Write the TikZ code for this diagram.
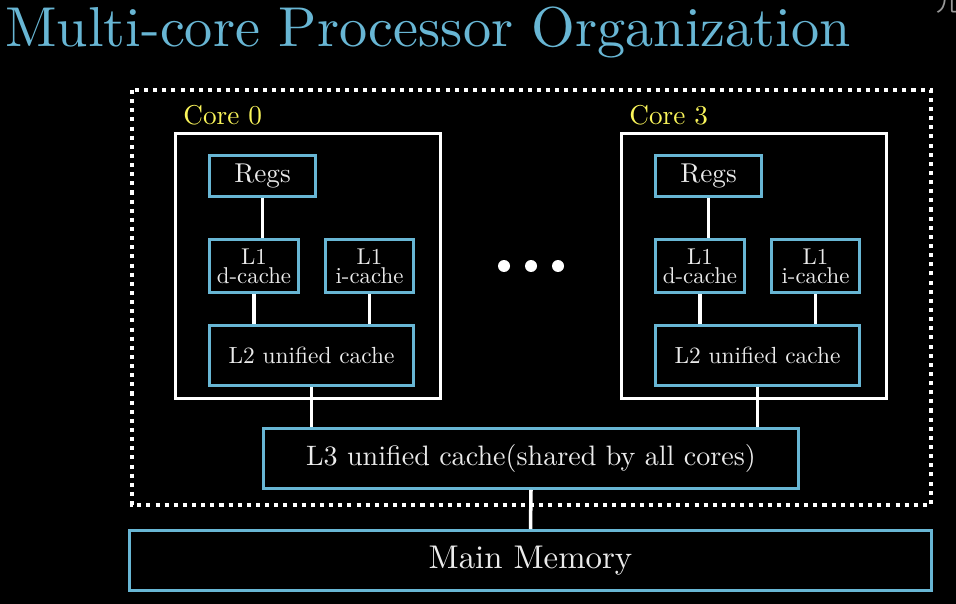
\documentclass[tikz,border=0pt]{standalone}
\usepackage{fontspec}
\setmainfont{lmroman10-regular}[Extension=.otf]
\newfontfamily\cjk{Noto Sans CJK SC}
\usepackage{xcolor}
\definecolor{cacheblue}{RGB}{104,182,212}
\definecolor{coreyellow}{RGB}{250,245,90}

\begin{document}
\begin{tikzpicture}[x=0.02cm,y=-0.02cm,
  cache/.style={draw=cacheblue,line width=1.7pt,text=white!92!black,inner sep=0pt,align=center},
  corebox/.style={draw=white,line width=1.7pt,minimum width=5.3cm,minimum height=5.3cm,inner sep=0pt},
  link/.style={draw=white,line width=2pt}]
\fill[black] (0,0) rectangle (956,604);
\useasboundingbox (0,0) rectangle (956,604);
\node[anchor=base west,text=cacheblue,inner sep=0pt,font=\fontsize{32}{36}\selectfont] (title) at (5,47) {Multi-core Processor Organization};
\node[text=black!40,inner sep=0pt,font=\cjk\fontsize{13}{14}\selectfont] (mark) at (948,3) {九};
\draw[white,line width=2.3pt,dash pattern=on 2.3pt off 2.9pt] (132,90) rectangle (931,505);
\foreach \i/\dx in {0/0,3/446}{
  \node[corebox] (core\i) at (308+\dx,266) {};
  \node[anchor=base west,text=coreyellow,inner sep=0pt,font=\fontsize{15.5}{18}\selectfont] (label\i) at (183+\dx,125) {Core \i};
  \node[cache,minimum width=2.12cm,minimum height=0.82cm,font=\fontsize{15.5}{18}\selectfont] (regs\i) at (262.5+\dx,176) {Regs};
  \node[cache,minimum width=1.78cm,minimum height=1.06cm,font=\fontsize{13}{10.8}\selectfont] (l1d\i) at (254+\dx,266) {L1\\d-cache};
  \node[cache,minimum width=1.76cm,minimum height=1.06cm,font=\fontsize{13}{10.8}\selectfont] (l1i\i) at (369.5+\dx,266) {L1\\i-cache};
  \node[cache,minimum width=4.08cm,minimum height=1.2cm,font=\fontsize{13.3}{16}\selectfont] (l2c\i) at (311.5+\dx,355.5) {L2 unified cache};
  \draw[link] (regs\i.south) -- (regs\i.south |- l1d\i.north);
  \draw[link] (l1d\i.south) -- (l1d\i.south |- l2c\i.north);
  \draw[link] (l1i\i.south) -- (l1i\i.south |- l2c\i.north);
}
\fill[white] (504,266) circle [radius=0.12cm] (531,266) circle [radius=0.12cm] (558,266) circle [radius=0.12cm];
\node[cache,minimum width=10.7cm,minimum height=1.2cm,font=\fontsize{16}{18}\selectfont] (l3) at (531,458.5) {L3 unified cache(shared by all cores)};
\node[cache,minimum width=16.04cm,minimum height=1.2cm,font=\fontsize{18.7}{20}\selectfont] (mem) at (530.5,560.5) {Main Memory};
\draw[link] (l2c0.south) -- (l2c0.south |- l3.north);
\draw[link] (l2c3.south) -- (l2c3.south |- l3.north);
\draw[link] (l3.south) -- (mem.north);
\end{tikzpicture}
\end{document}
